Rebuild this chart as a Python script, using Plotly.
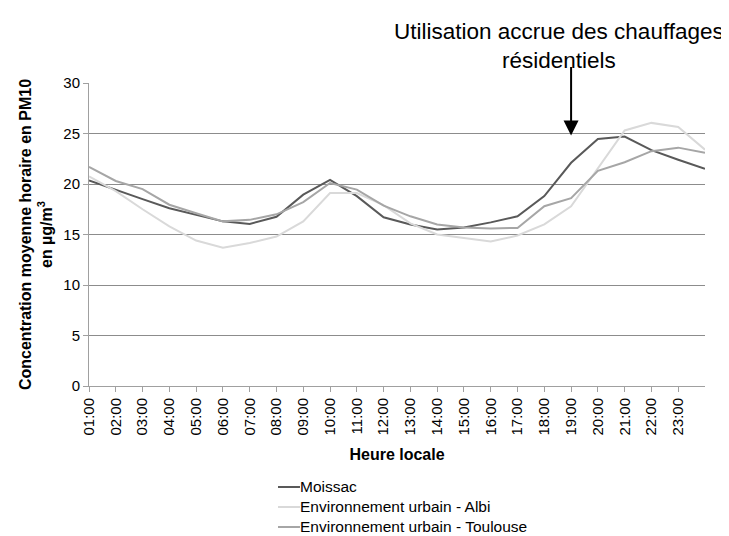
import plotly.graph_objects as go

hours = list(range(24))
tick_labels = ["01:00", "02:00", "03:00", "04:00", "05:00", "06:00", "07:00", "08:00",
               "09:00", "10:00", "11:00", "12:00", "13:00", "14:00", "15:00", "16:00",
               "17:00", "18:00", "19:00", "20:00", "21:00", "22:00", "23:00"]

moissac = [20.35, 19.4, 18.5, 17.6, 16.95, 16.3, 16.05, 16.75, 18.95, 20.4, 18.8, 16.7,
           16.0, 15.5, 15.7, 16.2, 16.8, 18.8, 22.1, 24.45, 24.7, 23.35, 22.4, 21.5]
albi = [20.75, 19.3, 17.5, 15.8, 14.4, 13.7, 14.15, 14.8, 16.3, 19.1, 19.1, 17.9,
        16.1, 15.0, 14.65, 14.3, 14.9, 16.0, 17.8, 21.6, 25.3, 26.05, 25.65, 23.4]
toulouse = [21.7, 20.3, 19.5, 17.95, 17.1, 16.3, 16.45, 17.0, 18.2, 20.1, 19.45, 17.85,
            16.8, 16.0, 15.7, 15.6, 15.65, 17.8, 18.6, 21.3, 22.15, 23.25, 23.6, 23.1]

series_names = ["Moissac", "Environnement urbain - Albi", "Environnement urbain - Toulouse"]
series_colors = ["#595959", "#d9d9d9", "#a6a6a6"]

annot_text = "Utilisation accrue des chauffages<br>résidentiels"
arrow_x = 18
arrow_y = 24.8

FONT = "Liberation Sans, Arial, sans-serif"

fig = go.Figure()
for name, vals, col in zip(series_names, [moissac, albi, toulouse], series_colors):
    fig.add_trace(go.Scatter(x=hours, y=vals, mode="lines", name=name,
                             line=dict(color=col, width=2), showlegend=False))

fig.update_layout(
    width=729, height=536,
    margin=dict(l=81, r=32, t=75, b=158),
    paper_bgcolor="white", plot_bgcolor="white",
    font=dict(family=FONT, size=15, color="#000000"),
    showlegend=False,
    xaxis=dict(range=[0, 23], tickmode="array", tickvals=list(range(23)),
               ticktext=tick_labels, tickangle=-90, ticks="outside", ticklen=5,
               tickcolor="#a0a0a0", showline=True, linecolor="#a0a0a0", linewidth=1,
               showgrid=False, zeroline=False, tickfont=dict(size=15),
               title=dict(text="<b>Heure locale</b>", font=dict(size=16), standoff=14)),
    yaxis=dict(range=[0, 30], dtick=5, ticks="outside", ticklen=5, tickcolor="#a0a0a0",
               showline=True, linecolor="#a0a0a0", linewidth=1,
               showgrid=True, gridcolor="#8c8c8c", gridwidth=1, zeroline=False,
               tickfont=dict(size=15),
               title=dict(text="<b>Concentration moyenne horaire en PM10<br>en µg/m<sup>3</sup></b>",
                          font=dict(size=16), standoff=6)),
)

# Legend (drawn below the plot area, rows 20 px apart)
legend_rows_y = [-0.3333, -0.3993, -0.4653]
for name, col, ly in zip(series_names, series_colors, legend_rows_y):
    fig.add_shape(type="line", xref="paper", yref="paper", x0=0.3068, x1=0.3425,
                  y0=ly, y1=ly, line=dict(color=col, width=2))
    fig.add_annotation(x=0.339, y=ly, xref="paper", yref="paper", text=name,
                       showarrow=False, xanchor="left", yanchor="middle",
                       font=dict(family=FONT, size=15.5, color="#000000"))

fig.add_annotation(x=arrow_x, y=arrow_y, xref="x", yref="y", ax=0, ay=-70,
                   axref="pixel", ayref="pixel", text="", showarrow=True,
                   arrowhead=2, arrowsize=1.5, arrowwidth=2, arrowcolor="#000000")
fig.add_annotation(x=0.763, y=1.122, xref="paper", yref="paper", text=annot_text,
                   showarrow=False, xanchor="center", yanchor="middle", align="center",
                   font=dict(family=FONT, size=22.5, color="#000000"))

fig.write_html("out.html")
